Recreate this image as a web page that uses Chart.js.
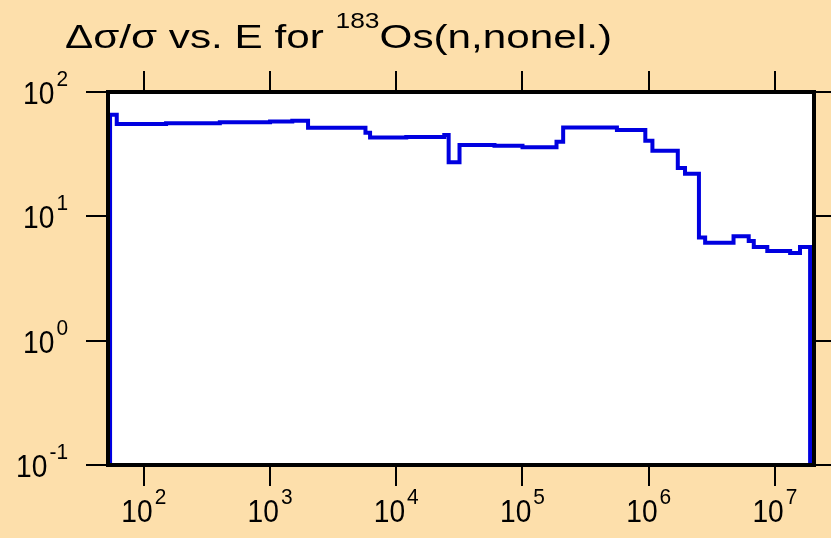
<!DOCTYPE html>
<html>
<head>
<meta charset="utf-8">
<script src="https://cdn.jsdelivr.net/npm/chart.js@4.4.1/dist/chart.umd.min.js"></script>
<style>
  html, body { margin: 0; padding: 0; background: #fddfab; }
  #wrap { width: 831px; height: 538px; }
</style>
</head>
<body>
<div id="wrap"><canvas id="chart" width="831" height="538"></canvas></div>
<script>
// group start energies (eV), each value is held until the next energy
const energies = [54, 54, 61, 150, 400, 1000, 1500, 2000, 5700, 6200, 12000, 24000, 26000, 31700,
  60000, 100000, 186000, 210000, 560000, 940000, 1070000, 1700000, 1940000, 2500000,
  2800000, 4700000, 6200000, 6800000, 8700000, 13200000, 15800000, 19000000];
// relative uncertainty (%)
const uncert = [0.1, 65.5, 55.4, 56, 57, 58, 58.6, 51.5, 47, 43.1, 43.5, 45, 27.2, 37.4,
  37, 36, 39.8, 51.8, 49.4, 40.5, 33.7, 24.5, 22, 6.76,
  6.12, 6.92, 6.34, 5.67, 5.27, 5.08, 5.67, 0.1];

const xTickExps = [2, 3, 4, 5, 6, 7];
const yTickExps = [-1, 0, 1, 2];

const xMin = 52, xMax = 20400000;
const yMin = 0.1, yMax = 100;

const FONT = "'Liberation Sans', Arial, sans-serif";

let points = energies.map((e, i) => ({ x: e, y: uncert[i] }));

// text drawn with a horizontal stretch factor
function stretchText(ctx, str, x, y, size, sx) {
  ctx.save();
  ctx.font = size + "px " + FONT;
  ctx.translate(x, y);
  ctx.scale(sx, 1);
  ctx.fillText(str, 0, 0);
  let w = ctx.measureText(str).width * sx;
  ctx.restore();
  return w;
}
function textWidth(ctx, str, size, sx) {
  ctx.font = size + "px " + FONT;
  return ctx.measureText(str).width * sx;
}

// draws "10" with a raised exponent
function drawPow(ctx, exp, x, y, align) {
  let base = "10", sup = String(exp);
  let wb = textWidth(ctx, base, 32, 0.88);
  let ws = textWidth(ctx, sup, 22, 0.95);
  let left;
  if (align == "right") left = x - wb - ws - 2;
  else left = x - (wb + ws + 2) / 2;
  stretchText(ctx, base, left, y, 32, 0.88);
  stretchText(ctx, sup, left + wb + 2, y - 18, 22, 0.95);
}

const framePlugin = {
  id: "frame",
  beforeDraw(chart) {
    let ctx = chart.ctx, a = chart.chartArea;
    ctx.save();
    ctx.fillStyle = "#fddfab";
    ctx.fillRect(0, 0, chart.width, chart.height);
    ctx.fillStyle = "#ffffff";
    ctx.fillRect(a.left, a.top, a.right - a.left, a.bottom - a.top);
    ctx.restore();
  },
  afterDraw(chart) {
    let ctx = chart.ctx, a = chart.chartArea;
    let xs = chart.scales.x, ys = chart.scales.y;
    ctx.save();
    ctx.strokeStyle = "#000";
    ctx.fillStyle = "#000";
    ctx.textAlign = "left";
    ctx.textBaseline = "alphabetic";
    // outward ticks
    ctx.lineWidth = 2;
    ctx.beginPath();
    xTickExps.forEach(p => {
      let px = Math.round(xs.getPixelForValue(Math.pow(10, p)));
      ctx.moveTo(px, a.top); ctx.lineTo(px, a.top - 21);
      ctx.moveTo(px, a.bottom); ctx.lineTo(px, a.bottom + 21);
    });
    yTickExps.forEach(p => {
      let py = Math.round(ys.getPixelForValue(Math.pow(10, p)));
      ctx.moveTo(a.left, py); ctx.lineTo(a.left - 22, py);
      ctx.moveTo(a.right, py); ctx.lineTo(a.right + 22, py);
    });
    ctx.stroke();
    // frame
    ctx.lineWidth = 4;
    ctx.strokeRect(a.left, a.top, a.right - a.left, a.bottom - a.top);
    // tick labels
    xTickExps.forEach(p => {
      drawPow(ctx, p, xs.getPixelForValue(Math.pow(10, p)), a.bottom + 57, "center");
    });
    yTickExps.forEach(p => {
      drawPow(ctx, p, 68, ys.getPixelForValue(Math.pow(10, p)) + 12, "right");
    });
    // title
    let tx = 65, ty = 48;
    tx += stretchText(ctx, "\u0394\u03c3/\u03c3 vs. E for ", tx, ty, 33, 1.28);
    tx += stretchText(ctx, "183", tx, ty - 20, 22, 1.2);
    stretchText(ctx, "Os(n,nonel.)", tx, ty, 33, 1.28);
    ctx.restore();
  }
};

new Chart(document.getElementById("chart"), {
  type: "line",
  data: {
    datasets: [{
      data: points,
      stepped: "before",
      borderColor: "#0000e0",
      borderWidth: 4,
      pointRadius: 0,
      fill: false
    }]
  },
  options: {
    responsive: false,
    animation: false,
    layout: { padding: { left: 108, right: 17, top: 92, bottom: 73 } },
    plugins: { legend: { display: false }, tooltip: { enabled: false } },
    scales: {
      x: { type: "logarithmic", display: false, min: xMin, max: xMax },
      y: { type: "logarithmic", display: false, min: yMin, max: yMax }
    }
  },
  plugins: [framePlugin]
});
</script>
</body>
</html>
